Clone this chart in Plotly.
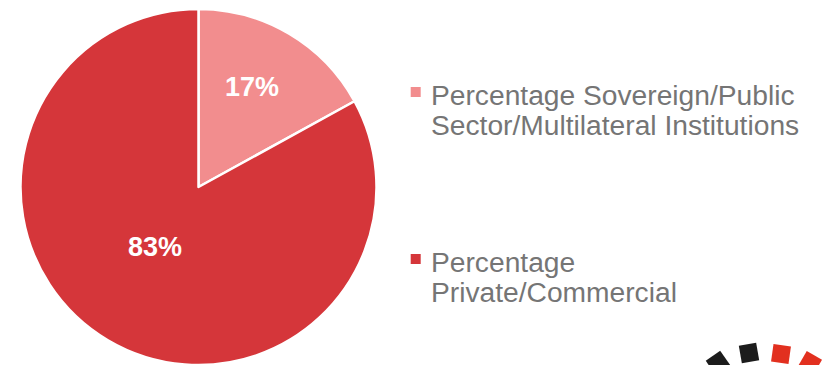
import math
import plotly.graph_objects as go

# ---- data ----
labels = [
    "Percentage Sovereign/Public<br>Sector/Multilateral Institutions",
    "Percentage<br>Private/Commercial",
]
values = [17, 83]
colors = ["#F28D8E", "#D5363A"]

W, H = 833, 365
PIE_X = [20, 377]   # px extent of pie domain
PIE_TOP = 9

fig = go.Figure(
    go.Pie(
        labels=labels,
        values=values,
        sort=False,
        direction="clockwise",
        rotation=0,
        marker=dict(colors=colors, line=dict(color="white", width=2.5)),
        textinfo="none",
        domain=dict(x=[PIE_X[0] / W, PIE_X[1] / W], y=[0, 1 - PIE_TOP / H]),
        showlegend=False,
        hoverinfo="label+percent",
    )
)

def px(x):
    return x / W

def py(y):
    return 1 - y / H

annotations = []
shapes = []

# percentage labels placed near each slice's mid-angle
cx = (PIE_X[0] + PIE_X[1]) / 2
cy = (PIE_TOP + H) / 2
R = (PIE_X[1] - PIE_X[0]) / 2
total = sum(values)
radial = [0.635, 0.415]
ang_off = [-2.7, 5.7]
cum = 0
for v, rf, off in zip(values, radial, ang_off):
    mid = (cum + v / 2) / total * 2 * math.pi + math.radians(off)
    cum += v
    tx = cx + rf * R * math.sin(mid)
    ty = cy - rf * R * math.cos(mid)
    annotations.append(dict(
        x=px(tx), y=py(ty), xref="paper", yref="paper", xanchor="center",
        yanchor="middle", showarrow=False, text=f"{round(v / total * 100)}%",
        font=dict(family="Liberation Sans, Arial", size=27, color="white", weight="bold"),
    ))

legend_tops = [94.5, 261.5]   # cap-centre of first line for each entry (px)
line_gap = 30.8
for lab, col, y0 in zip(labels, colors, legend_tops):
    for i, line in enumerate(lab.split("<br>")):
        annotations.append(dict(
            x=px(428.5), y=py(y0 + i * line_gap), xref="paper", yref="paper",
            xanchor="left", yanchor="middle", showarrow=False, text=line,
            font=dict(family="Liberation Sans, Arial", size=28.2, color="#757575"),
        ))
    shapes.append(dict(
        type="rect", xref="paper", yref="paper",
        x0=px(410.7), x1=px(420.7), y0=py(y0 - 2.5 - 5), y1=py(y0 - 2.5 + 5),
        fillcolor=col, line=dict(width=0),
    ))

# decorative logo fragment (bottom right)
logo = [((718, 363), -35, "#1c1c1c"), ((749, 353), -10, "#1c1c1c"),
        ((781, 354), 8, "#E2301F"), ((810, 363), 30, "#E2301F")]
for (lx, ly), ang, col in logo:
    s = 8.8
    a = math.radians(ang)
    pts = []
    for dx, dy in [(-s, -s), (s, -s), (s, s), (-s, s)]:
        rx = lx + dx * math.cos(a) - dy * math.sin(a)
        ry = ly + dx * math.sin(a) + dy * math.cos(a)
        pts.append((px(rx), py(ry)))
    path = "M" + " L".join(f"{x:.5f},{y:.5f}" for x, y in pts) + " Z"
    shapes.append(dict(type="path", xref="paper", yref="paper", path=path,
                       fillcolor=col, line=dict(width=0)))

fig.update_layout(
    width=W, height=H,
    margin=dict(l=0, r=0, t=0, b=0),
    paper_bgcolor="white", plot_bgcolor="white",
    annotations=annotations, shapes=shapes,
)

fig.write_html("out.html")
